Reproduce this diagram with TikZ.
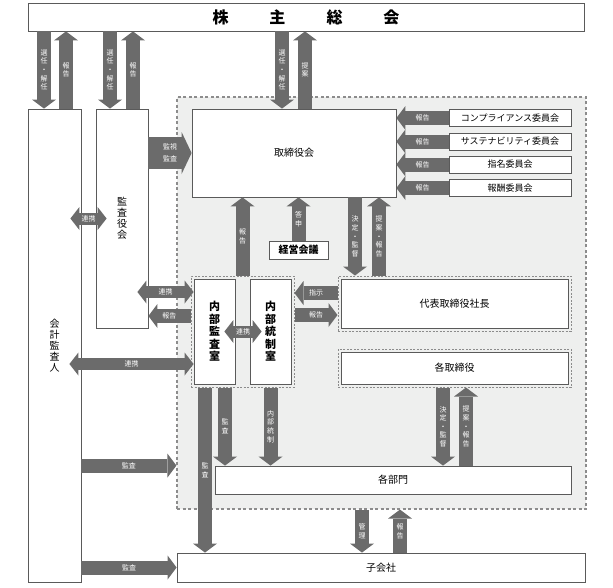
\documentclass[tikz,border=0pt]{standalone}
\usepackage{fontspec}
\setmainfont{Noto Sans CJK JP}
\usetikzlibrary{arrows.meta,calc}

\definecolor{ArrowGray}{HTML}{6B6B6B}
\definecolor{BoxLine}{HTML}{5A5A5A}
\definecolor{DashGray}{HTML}{8C8C8C}
\definecolor{AreaFill}{HTML}{EEEFEE}

\begin{document}
\begin{tikzpicture}[x=1pt,y=-1pt,
  box/.style={draw=BoxLine, fill=white, line width=0.8pt, inner sep=0pt,
    font=\fontsize{10}{11}\selectfont, align=center},
  grp/.style={draw=DashGray, line width=1pt, dash pattern=on 2pt off 1.5pt, inner sep=0pt},
  fat/.style={draw=ArrowGray, line width=14pt,
    -{Triangle[width=24pt,length=9pt,line width=0pt]}},
  fatdbl/.style={draw=ArrowGray, line width=12pt,
    {Triangle[width=23pt,length=9pt,line width=0pt]}-{Triangle[width=23pt,length=9pt,line width=0pt]}},
  lab/.style={text=white, font=\fontsize{7}{8}\selectfont, inner sep=0pt},
  vlab/.style={lab, align=center, font=\fontsize{7}{8.6}\selectfont},
]

  \useasboundingbox (0,0) rectangle (613,587);

  %–– Área interna (sombreada) ––
  \node[draw=DashGray, fill=AreaFill, line width=1.2pt, dash pattern=on 3pt off 2.5pt,
    minimum width=409pt, minimum height=412pt, inner sep=0pt] (shanai) at (381.5,303) {};

  %–– Columnas y filas de las flechas ––
  \coordinate (kA) at (44,0);  \coordinate (kB) at (66,0);
  \coordinate (sA) at (110,0); \coordinate (sB) at (133,0);
  \coordinate (tA) at (282,0); \coordinate (tB) at (305,0);
  \coordinate (dA) at (355,0); \coordinate (dB) at (379,0);
  \coordinate (nA) at (205,0); \coordinate (nB) at (225,0);
  \coordinate (eA) at (443,0); \coordinate (eB) at (466,0);
  \coordinate (gA) at (362,0); \coordinate (gB) at (400,0);
  \coordinate (r2) at (0,292); \coordinate (r3) at (0,316);
  \coordinate (r4) at (0,364); \coordinate (r5) at (0,293);
  \coordinate (r6) at (0,315);

  %–– Cajas principales ––
  \node[box, font=\fontsize{16}{18}\selectfont\bfseries, minimum width=556pt, minimum height=28pt]
    (soukai) at (306,17) {株\hspace{41pt}主\hspace{41pt}総\hspace{41pt}会};

  \node[box, minimum width=53pt, minimum height=473pt] (kaikei) at (54.5,345.5)
    {会\\計\\監\\査\\人};
  \node[box, minimum width=52pt, minimum height=219pt] (kansayaku) at (122,218.5)
    {監\\査\\役\\会};
  \node[box, minimum width=204pt, minimum height=88pt] (torishimari) at (294,153) {取締役会};

  \foreach \n/\y/\t in {c1/118/コンプライアンス委員会, c2/141.5/サステナビリティ委員会,
                        c3/164.5/指名委員会, c4/188/報酬委員会}{
    \node[box, font=\fontsize{9}{10}\selectfont, minimum width=122pt, minimum height=17pt]
      (\n) at (510,\y) {\t};
  }

  \node[box, font=\fontsize{10}{11}\selectfont\bfseries, minimum width=59pt, minimum height=18pt]
    (keiei) at (298.5,250) {経営会議};

  %–– Grupos punteados ––
  \node[grp, minimum width=103pt, minimum height=111pt] (naibugrp) at (242.5,331.5) {};
  \node[grp, minimum width=233pt, minimum height=55pt] (daihyogrp) at (454.5,303.5) {};
  \node[grp, minimum width=233pt, minimum height=38pt] (kakugrp) at (454.5,368) {};

  \node[box, font=\fontsize{11}{12.5}\selectfont\bfseries, minimum width=41pt, minimum height=105pt]
    (naibukansa) at (214.5,331.5) {内\\部\\監\\査\\室};
  \node[box, font=\fontsize{11}{12.5}\selectfont\bfseries, minimum width=41pt, minimum height=105pt]
    (naibutousei) at (270.5,331.5) {内\\部\\統\\制\\室};
  \node[box, minimum width=227pt, minimum height=49pt] (daihyo) at (454.5,303.5) {代表取締役社長};
  \node[box, minimum width=227pt, minimum height=32pt] (kakutori) at (454.5,368) {各取締役};

  \node[box, minimum width=356pt, minimum height=28pt] (bumon) at (393,480) {各部門};
  \node[box, minimum width=408pt, minimum height=29pt] (kogaisha) at (381,567.5) {子会社};

  %–– Flechas desde / hacia la junta ––
  \draw[fat] (soukai.south -| kA) -- (kaikei.north -| kA) node[midway,vlab] {選\\任\\・\\解\\任};
  \draw[fat] (kaikei.north -| kB) -- (soukai.south -| kB) node[midway,vlab] {報\\告};
  \draw[fat] (soukai.south -| sA) -- (kansayaku.north -| sA) node[midway,vlab] {選\\任\\・\\解\\任};
  \draw[fat] (kansayaku.north -| sB) -- (soukai.south -| sB) node[midway,vlab] {報\\告};
  \draw[fat] (soukai.south -| tA) -- (torishimari.north -| tA) node[midway,vlab] {選\\任\\・\\解\\任};
  \draw[fat] (torishimari.north -| tB) -- (soukai.south -| tB) node[midway,vlab] {提\\案};

  %–– Auditoría ––
  \draw[draw=ArrowGray, line width=32pt, -{Triangle[width=42pt,length=10pt,line width=0pt]}]
    (kansayaku.east |- torishimari.west) -- (torishimari.west)
    node[midway, lab, align=center, font=\fontsize{7}{12}\selectfont] {監視\\監査};
  \draw[fatdbl] ($(kaikei.east |- kansayaku.west)+(-11,0)$) -- ($(kansayaku.west)+(11,0)$)
    node[midway,lab] {連携};
  \draw[fatdbl] ($(kansayaku.east |- r2)+(-11,0)$) -- (naibukansa.west |- r2) node[midway,lab] {連携};
  \draw[fat] (naibugrp.west |- r3) -- (kansayaku.east |- r3) node[midway,lab] {報告};
  \draw[fatdbl] ($(kaikei.east |- r4)+(-12,0)$) -- (naibukansa.west |- r4) node[midway,lab] {連携};
  \draw[fat] (kaikei.east |- bumon.north) -- (shanai.west |- bumon.north) node[midway,lab] {監査};
  \draw[fat] (kaikei.east |- kogaisha.west) -- (kogaisha.west) node[midway,lab] {監査};

  %–– Comités ––
  \foreach \c in {c1,c2,c3,c4}
    \draw[fat] (\c.west) -- (torishimari.east |- \c.west) node[midway,lab] {報告};

  %–– Consejo y dirección ––
  \draw[fat] (naibugrp.north) -- (torishimari.south -| naibugrp.north) node[midway,vlab] {報\\告};
  \draw[fat] (keiei.north) -- (torishimari.south -| keiei.north) node[midway,vlab] {答\\申};
  \draw[fat] (torishimari.south -| dA) -- (daihyogrp.north -| dA) node[midway,vlab] {決\\定\\・\\監\\督};
  \draw[fat] (daihyogrp.north -| dB) -- (torishimari.south -| dB) node[midway,vlab] {提\\案\\・\\報\\告};
  \draw[fat] (daihyogrp.west |- r5) -- (naibugrp.east |- r5) node[midway,lab] {指示};
  \draw[fat] (naibugrp.east |- r6) -- (daihyogrp.west |- r6) node[midway,lab] {報告};
  \draw[fatdbl] ($(naibukansa.east)+(-11,0)$) -- ($(naibutousei.west)+(12,0)$) node[midway,lab] {連携};

  %–– Hacia los departamentos ––
  \draw[fat] (naibugrp.south -| nA) -- (kogaisha.north -| nA) node[midway,vlab] {監\\査};
  \draw[fat] (naibugrp.south -| nB) -- (bumon.north -| nB) node[midway,vlab] {監\\査};
  \draw[fat] (naibugrp.south -| naibutousei.south) -- (bumon.north -| naibutousei.south)
    node[midway,vlab] {内\\部\\統\\制};
  \draw[fat] (kakugrp.south -| eA) -- (bumon.north -| eA) node[midway,vlab] {決\\定\\・\\監\\督};
  \draw[fat] (bumon.north -| eB) -- (kakugrp.south -| eB) node[midway,vlab] {提\\案\\・\\報\\告};

  %–– Filiales ––
  \draw[fat] (shanai.south -| gA) -- (kogaisha.north -| gA) node[midway,vlab] {管\\理};
  \draw[fat] (kogaisha.north -| gB) -- (shanai.south -| gB) node[midway,vlab] {報\\告};

\end{tikzpicture}
\end{document}
